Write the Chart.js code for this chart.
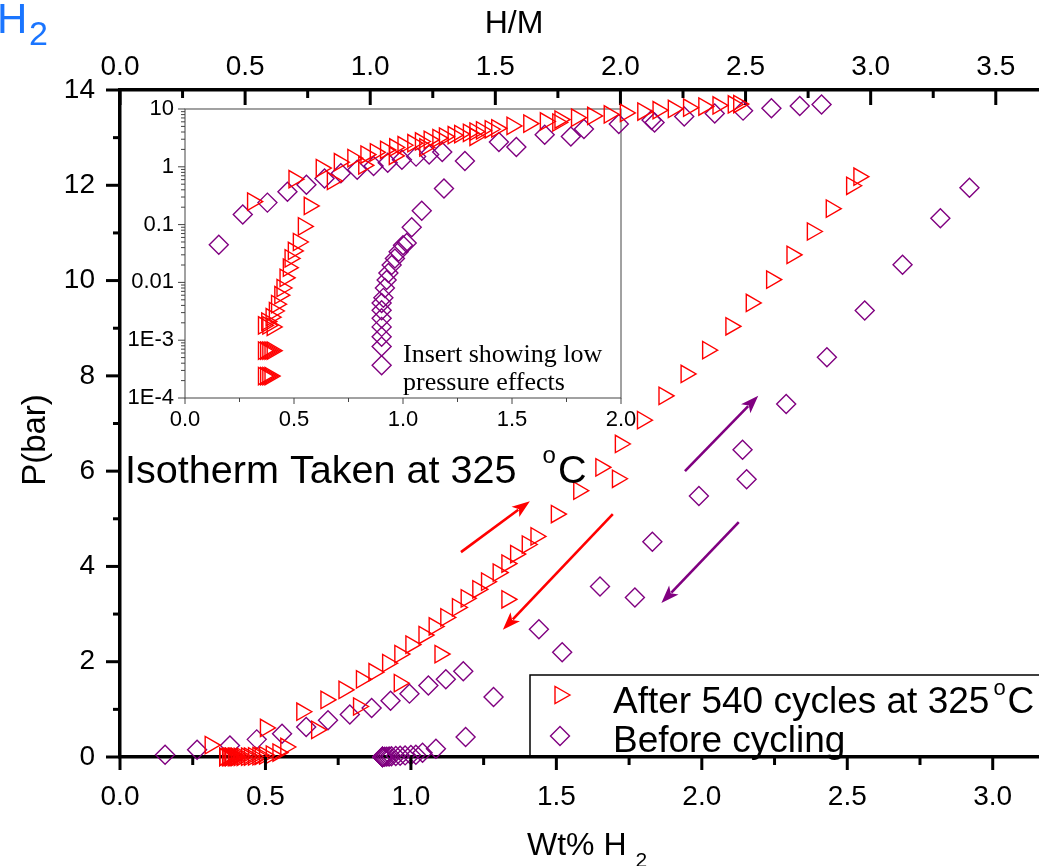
<!DOCTYPE html>
<html>
<head>
<meta charset="utf-8">
<script src="https://cdn.jsdelivr.net/npm/chart.js@4.4.1/dist/chart.umd.min.js"></script>
<style>
  html, body { margin: 0; padding: 0; background: #fff; overflow: hidden; width: 1039px; height: 866px; }
  #wrap { position: relative; width: 1100px; height: 866px; }
  #wrap canvas { position: absolute; left: 0; top: 0; }
</style>
</head>
<body>
<div id="wrap">
  <canvas id="main" width="1100" height="866"></canvas>
  <canvas id="inset" width="1100" height="866"></canvas>
</div>
<script>
// ---- data (x = Wt% H2, y = P in bar) ----
// after 540 cycles (triangles): absorption branch, then desorption branch
const afterWt = [0.31, 0.50, 0.625, 0.708, 0.77, 0.83, 0.873, 0.92, 0.962, 1.00, 1.045, 1.08, 1.12, 1.16, 1.19,
  1.23, 1.26, 1.30, 1.33, 1.36, 1.40, 1.43, 1.50, 1.577, 1.653, 1.72, 1.796, 1.87, 1.946, 2.02, 2.10, 2.17,
  2.24, 2.31, 2.38, 2.445, 2.515, 2.54,
  1.71, 1.33, 1.10, 0.96, 0.82, 0.676, 0.57, 0.543, 0.52, 0.497, 0.482, 0.474, 0.459, 0.445, 0.435, 0.42,
  0.41, 0.395, 0.375, 0.36, 0.38, 0.40, 0.36, 0.37, 0.38, 0.39, 0.40, 0.36, 0.37, 0.38, 0.39];
const afterP = [0.25, 0.61, 0.95, 1.20, 1.41, 1.63, 1.78, 1.97, 2.16, 2.36, 2.56, 2.74, 2.93, 3.14, 3.33,
  3.52, 3.68, 3.87, 4.06, 4.26, 4.46, 4.63, 5.10, 5.59, 6.08, 6.57, 7.07, 7.58, 8.04, 8.54, 9.04, 9.53,
  10.02, 10.54, 11.03, 11.51, 11.99, 12.18,
  5.84, 3.31, 2.16, 1.55, 1.06, 0.57, 0.21, 0.093, 0.05, 0.035, 0.026, 0.018, 0.012, 0.008, 0.006, 0.0042,
  0.0032, 0.0025, 0.0021, 0.0018, 0.0018, 0.0017, 0.00066, 0.00066, 0.00066, 0.00066, 0.00066,
  0.00024, 0.00024, 0.00024, 0.00024];

// before cycling (diamonds)
const beforeWt = [0.155, 0.265, 0.378, 0.47, 0.557, 0.64, 0.715, 0.79, 0.865, 0.93, 0.995, 1.06, 1.12, 1.18,
  1.44, 1.52, 1.65, 1.77, 1.83, 1.99, 2.154, 2.14, 2.29, 2.43, 2.56, 2.69, 2.82, 2.92,
  0.902, 0.902, 0.902, 0.902, 0.902, 0.902, 0.902, 0.91, 0.917, 0.925, 0.933, 0.948, 0.963, 0.98, 1.0,
  1.017, 1.04, 1.086, 1.188, 1.284];
const beforeP = [0.045, 0.15, 0.24, 0.37, 0.49, 0.63, 0.77, 0.89, 1.03, 1.18, 1.33, 1.50, 1.63, 1.80,
  2.68, 2.20, 3.58, 3.35, 4.52, 5.48, 5.83, 6.45, 7.41, 8.39, 9.37, 10.33, 11.31, 11.95,
  0.00037, 0.00078, 0.00115, 0.0017, 0.0024, 0.0033, 0.0044, 0.0054, 0.008, 0.011, 0.0145, 0.02, 0.026,
  0.034, 0.044, 0.048, 0.09, 0.173, 0.42, 1.26];

// axes
const HM_PER_WT = 1.1626;               // H/M per Wt% H2 (top axis)
const wtTicks = [0, 0.5, 1.0, 1.5, 2.0, 2.5, 3.0];
const wtMinor = [0.25, 0.75, 1.25, 1.75, 2.25, 2.75, 3.25];
const hmTicks = [0, 0.5, 1.0, 1.5, 2.0, 2.5, 3.0, 3.5];
const hmMinor = [0.25, 0.75, 1.25, 1.75, 2.25, 2.75, 3.25, 3.75];
const pTicks = [0, 2, 4, 6, 8, 10, 12, 14];
const pMinor = [1, 3, 5, 7, 9, 11, 13];
const insetWtTicks = [0, 0.5, 1.0, 1.5, 2.0];
const insetWtMinor = [0.25, 0.75, 1.25, 1.75];
const insetPTicks = [1e-4, 1e-3, 0.01, 0.1, 1, 10];
const insetPLabels = ['1E-4', '1E-3', '0.01', '0.1', '1', '10'];

// annotation arrows in data units [wt, P]
const arrows = [
  { from: [1.172, 4.30], to: [1.409, 5.37], color: '#ff0000' },
  { from: [1.694, 5.10], to: [1.316, 2.67], color: '#ff0000' },
  { from: [1.942, 6.00], to: [2.194, 7.58], color: '#800080' },
  { from: [2.127, 4.93], to: [1.861, 3.23], color: '#800080' }
];

const RED = '#ff0000';
const PURPLE = '#800080';
const SANS = "'Liberation Sans', Arial, Helvetica, sans-serif";
const SERIF = "'Liberation Serif', 'Times New Roman', serif";

const toPts = (xs, ys) => xs.map((x, i) => ({ x: x, y: ys[i] }));

function makeDatasets() {
  return [
    { label: 'After 540 cycles at 325°C', data: toPts(afterWt, afterP), pointStyle: 'triangle', rotation: 90,
      radius: 10, borderColor: RED, backgroundColor: 'rgba(0,0,0,0)', borderWidth: 1.4, clip: false },
    { label: 'Before cycling', data: toPts(beforeWt, beforeP), pointStyle: 'rectRot',
      radius: 9.5, borderColor: PURPLE, backgroundColor: 'rgba(0,0,0,0)', borderWidth: 1.4, clip: false }
  ];
}

function line(ctx, x0, y0, x1, y1) {
  ctx.beginPath(); ctx.moveTo(x0, y0); ctx.lineTo(x1, y1); ctx.stroke();
}

function arrow(ctx, x0, y0, x1, y1, color) {
  const ang = Math.atan2(y1 - y0, x1 - x0);
  const hl = 18, hw = 6.5;
  ctx.strokeStyle = color; ctx.fillStyle = color; ctx.lineWidth = 2.6;
  line(ctx, x0, y0, x1 - Math.cos(ang) * hl * 0.8, y1 - Math.sin(ang) * hl * 0.8);
  ctx.beginPath();
  ctx.moveTo(x1, y1);
  ctx.lineTo(x1 - Math.cos(ang) * hl - Math.sin(ang) * hw, y1 - Math.sin(ang) * hl + Math.cos(ang) * hw);
  ctx.lineTo(x1 - Math.cos(ang) * hl * 0.75, y1 - Math.sin(ang) * hl * 0.75);
  ctx.lineTo(x1 - Math.cos(ang) * hl + Math.sin(ang) * hw, y1 - Math.sin(ang) * hl - Math.cos(ang) * hw);
  ctx.closePath(); ctx.fill();
}

// text with a raised small "o" for the degree sign
function degText(ctx, before, x, y, size, gap) {
  ctx.font = size + 'px ' + SANS;
  ctx.fillText(before, x, y);
  let cx = x + ctx.measureText(before).width + gap;
  const small = Math.round(size * 0.6);
  ctx.font = small + 'px ' + SANS;
  ctx.fillText('o', cx, y - size * 0.5);
  cx += ctx.measureText('o').width + 2;
  ctx.font = size + 'px ' + SANS;
  ctx.fillText('C', cx, y);
}

const mainDecor = {
  id: 'mainDecor',
  afterDraw(chart) {
    const { ctx, chartArea: a } = chart;
    const { x, x2, y } = chart.scales;
    ctx.save();
    ctx.strokeStyle = '#000';
    ctx.lineWidth = 3;
    // tick marks
    pTicks.forEach(v => line(ctx, a.left, y.getPixelForValue(v), a.left - 14, y.getPixelForValue(v)));
    pMinor.forEach(v => line(ctx, a.left, y.getPixelForValue(v), a.left - 7, y.getPixelForValue(v)));
    wtTicks.forEach(v => line(ctx, x.getPixelForValue(v), a.bottom, x.getPixelForValue(v), a.bottom + 13));
    wtMinor.forEach(v => line(ctx, x.getPixelForValue(v), a.bottom, x.getPixelForValue(v), a.bottom + 8));
    hmTicks.forEach(v => line(ctx, x2.getPixelForValue(v), a.top, x2.getPixelForValue(v), a.top + 15));
    hmMinor.forEach(v => line(ctx, x2.getPixelForValue(v), a.top, x2.getPixelForValue(v), a.top + 8));

    // axis titles
    ctx.fillStyle = '#000';
    ctx.textBaseline = 'alphabetic';
    ctx.textAlign = 'center';
    ctx.font = '32px ' + SANS;
    ctx.fillText('H/M', 514, 33);
    ctx.textAlign = 'left';
    ctx.fillText('Wt% H', 527, 855);
    const wEnd = 527 + ctx.measureText('Wt% H').width;
    ctx.font = '21px ' + SANS;
    ctx.fillText('2', wEnd + 9, 867);
    ctx.save();
    ctx.translate(36, 440);
    ctx.rotate(-Math.PI / 2);
    ctx.textAlign = 'center';
    ctx.textBaseline = 'middle';
    ctx.font = '33px ' + SANS;
    ctx.fillText('P(bar)', 0, 0);
    ctx.restore();

    // stray blue H2 at the top-left corner
    ctx.fillStyle = '#1a75ff';
    ctx.font = '42px ' + SANS;
    ctx.fillText('H', -3, 33);
    ctx.font = '34px ' + SANS;
    ctx.fillText('2', 29, 45);

    // annotation text
    ctx.fillStyle = '#000';
    degText(ctx, 'Isotherm Taken at 325', 125, 483, 39.6, 26);

    // arrows
    arrows.forEach(ar => arrow(ctx, x.getPixelForValue(ar.from[0]), y.getPixelForValue(ar.from[1]),
      x.getPixelForValue(ar.to[0]), y.getPixelForValue(ar.to[1]), ar.color));

    // legend box
    ctx.strokeStyle = '#000';
    ctx.lineWidth = 1.5;
    ctx.strokeRect(530, 675, 600, a.bottom - 675);
    ctx.lineWidth = 1.4;
    ctx.strokeStyle = RED;
    const tx = 560, ty = 695, r = 10;
    ctx.beginPath();
    ctx.moveTo(tx + r, ty);
    ctx.lineTo(tx - r / 2, ty - r * 0.866);
    ctx.lineTo(tx - r / 2, ty + r * 0.866);
    ctx.closePath(); ctx.stroke();
    ctx.strokeStyle = PURPLE;
    const dx = 560, dy = 736, d = 9.5;
    ctx.beginPath();
    ctx.moveTo(dx - d, dy); ctx.lineTo(dx, dy - d); ctx.lineTo(dx + d, dy); ctx.lineTo(dx, dy + d);
    ctx.closePath(); ctx.stroke();
    ctx.fillStyle = '#000';
    degText(ctx, 'After 540 cycles at 325', 613, 713, 37, 4);
    ctx.font = '37px ' + SANS;
    ctx.fillText('Before cycling', 613, 752);
    ctx.restore();
  }
};

const tickFont = { family: SANS, size: 28 };

new Chart(document.getElementById('main'), {
  type: 'scatter',
  data: { datasets: makeDatasets() },
  options: {
    responsive: false,
    animation: false,
    events: [],
    layout: { padding: { left: 0, top: 0, right: 20, bottom: 0 } },
    plugins: { legend: { display: false }, tooltip: { enabled: false } },
    scales: {
      x: {
        type: 'linear', position: 'bottom', min: 0, max: 3.3,
        afterFit: s => { s.height = 109; },
        afterBuildTicks: s => { s.ticks = wtTicks.map(v => ({ value: v })); },
        grid: { display: false, drawTicks: false },
        border: { display: true, width: 3.5, color: '#000' },
        ticks: { font: tickFont, color: '#000', padding: 23, autoSkip: false, maxRotation: 0,
          callback: v => v.toFixed(1) }
      },
      x2: {
        type: 'linear', position: 'top', min: 0, max: 3.3 * HM_PER_WT,
        afterFit: s => { s.height = 90; },
        afterBuildTicks: s => { s.ticks = hmTicks.map(v => ({ value: v })); },
        grid: { display: false, drawTicks: false },
        border: { display: true, width: 3.5, color: '#000' },
        ticks: { font: tickFont, color: '#000', padding: 6, autoSkip: false, maxRotation: 0,
          callback: v => v.toFixed(1) }
      },
      y: {
        type: 'linear', position: 'left', min: 0, max: 14,
        afterFit: s => { s.width = 120; },
        afterBuildTicks: s => { s.ticks = pTicks.map(v => ({ value: v })); },
        grid: { display: false, drawTicks: false },
        border: { display: true, width: 3.5, color: '#000' },
        ticks: { font: tickFont, color: '#000', padding: 25, autoSkip: false }
      }
    }
  },
  plugins: [mainDecor]
});

// ---- inset: same data on a log pressure axis ----
const insetDecor = {
  id: 'insetDecor',
  beforeDatasetsDraw(chart) {
    const { ctx } = chart;
    const { x, y } = chart.scales;
    const l = x.getPixelForValue(0), r = x.getPixelForValue(2);
    const t = y.getPixelForValue(10), b = y.getPixelForValue(1e-4);
    ctx.save();
    ctx.strokeStyle = '#444';
    ctx.lineWidth = 1;
    ctx.strokeRect(l, t, r - l, b - t);
    insetPTicks.forEach(v => line(ctx, l, y.getPixelForValue(v), l - 7, y.getPixelForValue(v)));
    insetPTicks.slice(0, -1).forEach(dec => {
      for (let k = 2; k < 10; k++) line(ctx, l, y.getPixelForValue(dec * k), l - 4, y.getPixelForValue(dec * k));
    });
    insetWtTicks.forEach(v => line(ctx, x.getPixelForValue(v), b, x.getPixelForValue(v), b + 6));
    insetWtMinor.forEach(v => line(ctx, x.getPixelForValue(v), b, x.getPixelForValue(v), b + 4));
    ctx.fillStyle = '#000';
    ctx.font = '26px ' + SERIF;
    ctx.textAlign = 'left';
    ctx.fillText('Insert showing low', 403, 362);
    ctx.fillText('pressure effects', 403, 390);
    ctx.restore();
  }
};

const insetFont = { family: SANS, size: 22 };

new Chart(document.getElementById('inset'), {
  type: 'scatter',
  data: { datasets: makeDatasets() },
  options: {
    responsive: false,
    animation: false,
    events: [],
    layout: { padding: { left: 0, top: 91.6, right: 261, bottom: 0 } },
    plugins: { legend: { display: false }, tooltip: { enabled: false } },
    scales: {
      x: {
        type: 'linear', min: 0, max: 3.0,
        afterFit: s => { s.height = 866 - 398; },
        afterBuildTicks: s => { s.ticks = insetWtTicks.map(v => ({ value: v })); },
        grid: { display: false, drawTicks: false },
        border: { display: false },
        ticks: { font: insetFont, color: '#000', padding: 9, autoSkip: false, maxRotation: 0,
          callback: v => v.toFixed(1) }
      },
      y: {
        type: 'logarithmic', min: 1e-4, max: 20,
        afterFit: s => { s.width = 185; },
        afterBuildTicks: s => { s.ticks = insetPTicks.map(v => ({ value: v })); },
        grid: { display: false, drawTicks: false },
        border: { display: false },
        ticks: { font: insetFont, color: '#000', padding: 11, autoSkip: false,
          callback: v => insetPLabels[insetPTicks.indexOf(v)] }
      }
    }
  },
  plugins: [insetDecor]
});
</script>
</body>
</html>
